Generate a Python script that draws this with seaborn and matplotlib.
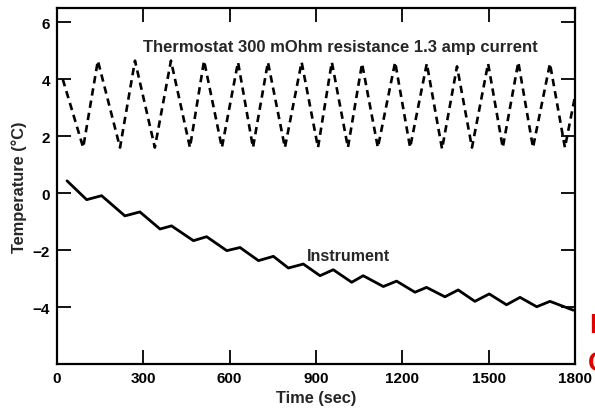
import matplotlib
matplotlib.use("Agg")
import matplotlib.pyplot as plt
import seaborn as sns
import pandas as pd

# ---- data ----
thermo_time = [20, 91, 142, 219, 271, 340, 396, 462, 511, 573, 629, 681, 733, 792, 850,
               907, 955, 1011, 1060, 1115, 1175, 1227, 1285, 1338, 1390, 1442, 1498,
               1549, 1603, 1654, 1713, 1765, 1800]
thermo_temp = [4.0, 1.6, 4.65, 1.6, 4.65, 1.6, 4.65, 1.6, 4.65, 1.6, 4.6, 1.6, 4.6, 1.6, 4.6,
               1.6, 4.6, 1.6, 4.55, 1.6, 4.6, 1.6, 4.55, 1.55, 4.45, 1.6, 4.55,
               1.6, 4.6, 1.6, 4.55, 1.6, 3.4]

instr_time = [35, 103, 155, 236, 288, 358, 398, 474, 520, 590, 636, 700, 752, 804, 856,
              914, 960, 1024, 1064, 1134, 1180, 1244, 1284, 1348, 1394, 1452, 1502,
              1562, 1609, 1667, 1713, 1794]
instr_temp = [0.43, -0.23, -0.09, -0.80, -0.66, -1.26, -1.15, -1.67, -1.53, -2.02, -1.91,
              -2.37, -2.22, -2.63, -2.49, -2.90, -2.69, -3.13, -2.90, -3.28, -3.09, -3.48,
              -3.31, -3.64, -3.40, -3.80, -3.54, -3.92, -3.66, -3.99, -3.80, -4.11]

x_ticks = [0, 300, 600, 900, 1200, 1500, 1800]
y_ticks = [-4, -2, 0, 2, 4, 6]

thermo_label = "Thermostat 300 mOhm resistance 1.3 amp current"
instr_label = "Instrument"

# ---- plotting ----
sns.set_style("ticks")
plt.rcParams["font.family"] = ["Liberation Sans", "DejaVu Sans"]

fig = plt.figure(figsize=(5.95, 4.14), dpi=100)
ax = fig.add_axes([57 / 595, 1 - 365 / 414, (575 - 57) / 595, (365 - 9) / 414])

df_t = pd.DataFrame({"time": thermo_time, "temp": thermo_temp})
df_i = pd.DataFrame({"time": instr_time, "temp": instr_temp})

sns.lineplot(data=df_t, x="time", y="temp", ax=ax, color="black", lw=1.9,
             linestyle=(0, (2.8, 1.9)), estimator=None, sort=False)
sns.lineplot(data=df_i, x="time", y="temp", ax=ax, color="black", lw=2.0,
             estimator=None, sort=False)
ax.lines[-1].set_solid_joinstyle("round")

ax.set_xlim(0, 1800)
ax.set_ylim(-6, 6.5)
ax.set_xticks(x_ticks)
ax.set_yticks(y_ticks)
ax.set_xticklabels([str(v) for v in x_ticks], fontsize=11, fontweight="bold")
ax.set_yticklabels([str(v).replace("-", "\u2212") for v in y_ticks], fontsize=11, fontweight="bold")
ax.tick_params(direction="in", length=10, width=1.3, top=True, right=True,
               colors="black", pad=5)
for s in ax.spines.values():
    s.set_linewidth(1.6)
    s.set_color("black")

ax.set_xlabel("Time (sec)", fontsize=11.8, fontweight="bold", labelpad=4)
ax.set_ylabel("Temperature (\u00b0C)", fontsize=11.8, fontweight="bold", labelpad=4)

ax.text(299, 5.16, thermo_label, fontsize=12, fontweight="bold", va="center", ha="left")
ax.text(869, -2.18, instr_label, fontsize=11.5, fontweight="bold", va="center", ha="left")

fig.text(589 / 595, 1 - 333 / 414, "I", color="#e00000", fontsize=20, fontweight="bold",
         ha="left", va="baseline")
fig.text(588 / 595, 1 - 371 / 414, "C", color="#e00000", fontsize=20, fontweight="bold",
         ha="left", va="baseline")

fig.savefig("out.png", dpi=100)
